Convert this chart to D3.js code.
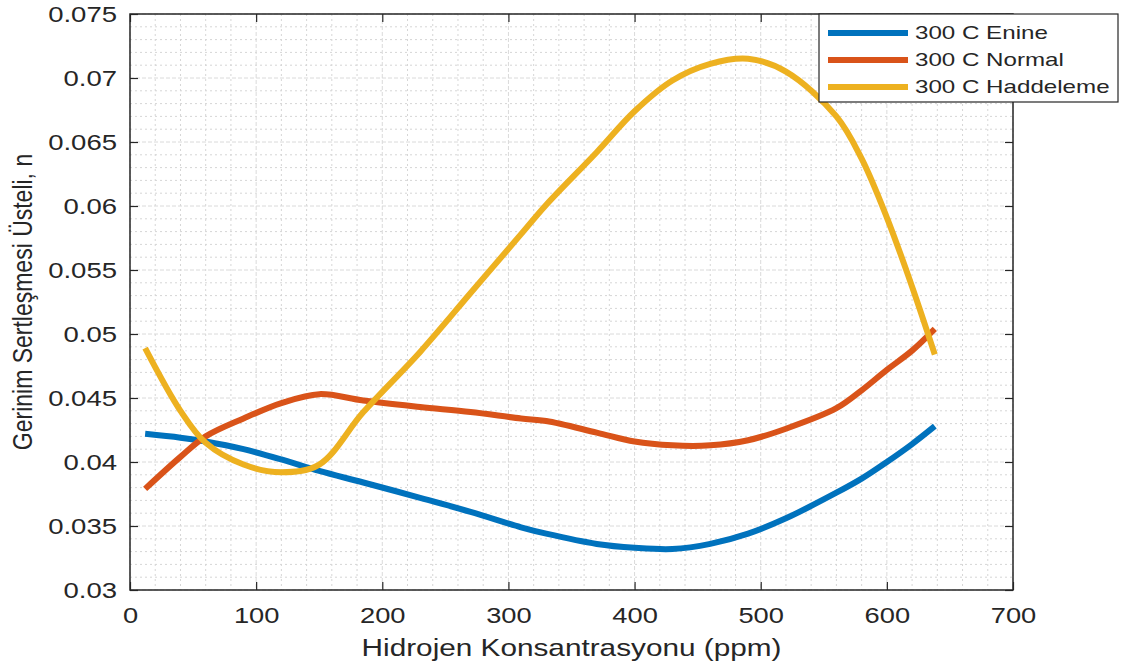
<!DOCTYPE html>
<html>
<head>
<meta charset="utf-8">
<script src="https://cdn.jsdelivr.net/npm/d3@7"></script>
<style>
  html, body { margin: 0; padding: 0; background: #fff; }
  svg { display: block; font-family: "Liberation Sans", Arial, sans-serif; }
</style>
</head>
<body>
<svg id="chart" width="1124" height="671"></svg>
<script>
// Hydrogen concentration (ppm) sample positions along each curve
const hydrogenPpm = [12, 40, 60, 90, 120, 150, 185, 230, 270, 310, 330, 370, 400, 430, 460, 490, 520, 560, 580, 600, 620, 638];

// Strain hardening exponent n, 300 C, per orientation
const enine      = [0.0422, 0.0419, 0.0416, 0.0410, 0.0402, 0.0393, 0.0384, 0.0372, 0.0361, 0.0349, 0.0344, 0.0336, 0.0333, 0.0332, 0.0336, 0.0344, 0.0356, 0.0376, 0.0387, 0.0400, 0.0414, 0.0428];
const normal     = [0.0379, 0.0404, 0.0420, 0.0434, 0.0446, 0.0453, 0.0448, 0.0443, 0.0439, 0.0434, 0.0432, 0.0423, 0.0416, 0.0413, 0.0413, 0.0417, 0.0426, 0.0442, 0.0456, 0.0472, 0.0487, 0.0504];
const haddeleme  = [0.0489, 0.0440, 0.0415, 0.0398, 0.0392, 0.0398, 0.0439, 0.0486, 0.0532, 0.0578, 0.0601, 0.0642, 0.0674, 0.0698, 0.0711, 0.0715, 0.0705, 0.0670, 0.0637, 0.0591, 0.0537, 0.0484];

const seriesNames  = ["300 C Enine", "300 C Normal", "300 C Haddeleme"];
const seriesColors = ["#0072BD", "#D95319", "#EDB120"];

const xTicks = [0, 100, 200, 300, 400, 500, 600, 700];
const yTicks = [0.03, 0.035, 0.04, 0.045, 0.05, 0.055, 0.06, 0.065, 0.07, 0.075];
const yTickLabels = ["0.03", "0.035", "0.04", "0.045", "0.05", "0.055", "0.06", "0.065", "0.07", "0.075"];

const xTitle = "Hidrojen Konsantrasyonu (ppm)";
const yTitle = "Gerinim Sertleşmesi Üsteli, n";

const svg = d3.select("#chart");
const m = { left: 130, right: 1013, top: 14, bottom: 590 };

const x = d3.scaleLinear().domain([0, 700]).range([m.left, m.right]);
const y = d3.scaleLinear().domain([0.03, 0.075]).range([m.bottom, m.top]);

const axisColor = "#262626";
const font = "'Liberation Sans', Arial, sans-serif";

// widen glyphs of a text selection by a factor
function widen(sel, f) {
  sel.each(function () {
    const w = this.getComputedTextLength();
    d3.select(this).attr("textLength", w * f).attr("lengthAdjust", "spacingAndGlyphs");
  });
}

// minor grid (dotted)
const gMinor = svg.append("g");
d3.range(0, 701, 20).filter(v => v % 100 !== 0).forEach(v => {
  gMinor.append("line").attr("x1", x(v)).attr("x2", x(v)).attr("y1", m.top).attr("y2", m.bottom);
});
d3.range(30, 76, 1).filter(v => v % 5 !== 0).forEach(v => {
  gMinor.append("line").attr("x1", m.left).attr("x2", m.right).attr("y1", y(v / 1000)).attr("y2", y(v / 1000));
});
gMinor.selectAll("line").attr("stroke", "#d6d6d6").attr("stroke-width", 1).attr("stroke-dasharray", "2,3");

// major grid
const gMajor = svg.append("g");
xTicks.forEach(v => gMajor.append("line").attr("x1", x(v)).attr("x2", x(v)).attr("y1", m.top).attr("y2", m.bottom));
yTicks.forEach(v => gMajor.append("line").attr("x1", m.left).attr("x2", m.right).attr("y1", y(v)).attr("y2", y(v)));
gMajor.selectAll("line").attr("stroke", "#dadada").attr("stroke-width", 1).attr("stroke-dasharray", "4,2");

// data curves
const line = d3.line()
  .x(d => x(d[0]))
  .y(d => y(d[1]))
  .curve(d3.curveCatmullRom.alpha(0.5));

[enine, normal, haddeleme].forEach((vals, i) => {
  svg.append("path")
    .datum(hydrogenPpm.map((h, j) => [h, vals[j]]))
    .attr("fill", "none")
    .attr("stroke", seriesColors[i])
    .attr("stroke-width", 6)
    .attr("stroke-linejoin", "round")
    .attr("d", line);
});

// axes with inward ticks on all four sides
const tickLen = 8;
const xAxisG = svg.append("g").attr("transform", `translate(0,${m.bottom})`)
  .call(d3.axisBottom(x).tickValues(xTicks).tickSize(-tickLen).tickPadding(17).tickFormat(d3.format("d")))
  .call(g => g.select(".domain").remove());
svg.append("g").attr("transform", `translate(0,${m.top})`)
  .call(d3.axisTop(x).tickValues(xTicks).tickSize(-tickLen).tickFormat(""))
  .call(g => g.select(".domain").remove());
const yAxisG = svg.append("g").attr("transform", `translate(${m.left},0)`)
  .call(d3.axisLeft(y).tickValues(yTicks).tickSize(-tickLen).tickPadding(13).tickFormat((d, i) => yTickLabels[i]))
  .call(g => g.select(".domain").remove());
svg.append("g").attr("transform", `translate(${m.right},0)`)
  .call(d3.axisRight(y).tickValues(yTicks).tickSize(-tickLen).tickFormat(""))
  .call(g => g.select(".domain").remove());

svg.selectAll(".tick line").attr("stroke", axisColor).attr("stroke-width", 1.2);
svg.selectAll(".tick text")
  .attr("fill", axisColor)
  .style("font-size", "22px")
  .style("font-family", font);
widen(xAxisG.selectAll(".tick text"), 1.24);
widen(yAxisG.selectAll(".tick text"), 1.25);

// plot box
svg.append("rect")
  .attr("x", m.left).attr("y", m.top)
  .attr("width", m.right - m.left).attr("height", m.bottom - m.top)
  .attr("fill", "none").attr("stroke", axisColor).attr("stroke-width", 1.5);

// axis titles
svg.append("text")
  .attr("transform", `translate(${(m.left + m.right) / 2},656) scale(1.24,1)`)
  .attr("text-anchor", "middle")
  .attr("fill", axisColor)
  .style("font-size", "24px")
  .text(xTitle);

svg.append("text")
  .attr("transform", `translate(32,${(m.top + m.bottom) / 2}) scale(1.24,1) rotate(-90)`)
  .attr("text-anchor", "middle")
  .attr("fill", axisColor)
  .style("font-size", "23px")
  .text(yTitle);

// legend
const lg = svg.append("g").attr("transform", "translate(819,14)");
lg.append("rect").attr("width", 299).attr("height", 88)
  .attr("fill", "#fff").attr("stroke", axisColor).attr("stroke-width", 1.2);
seriesNames.forEach((name, i) => {
  const cy = 19 + i * 27;
  lg.append("line").attr("x1", 9).attr("x2", 89).attr("y1", cy).attr("y2", cy)
    .attr("stroke", seriesColors[i]).attr("stroke-width", 6);
  lg.append("text")
    .attr("transform", `translate(96,${cy + 6}) scale(1.38,1)`)
    .attr("fill", axisColor)
    .style("font-size", "17.5px")
    .text(name);
});
</script>
</body>
</html>
